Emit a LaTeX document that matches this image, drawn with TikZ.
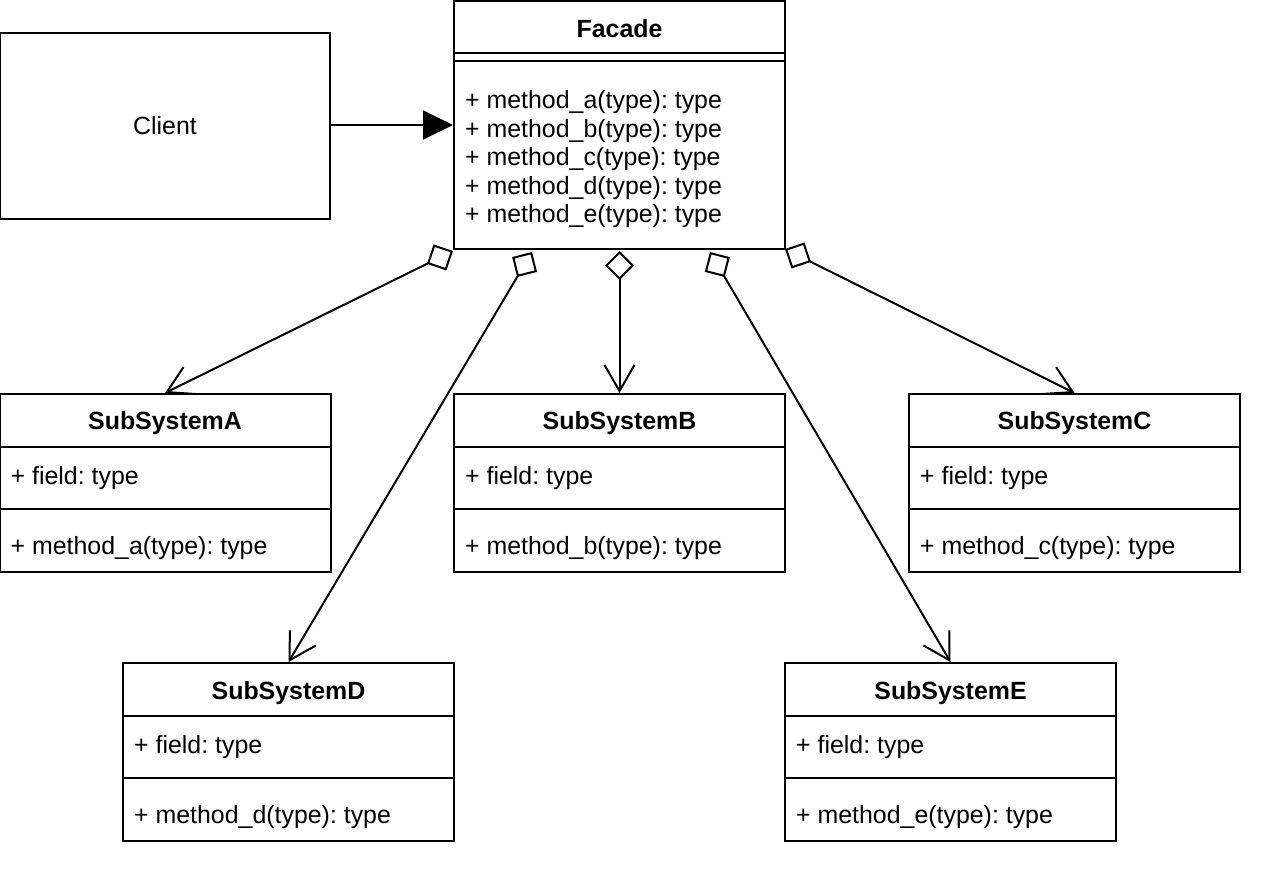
\documentclass[tikz,border=0pt]{standalone}
\usepackage{fontspec}
\setmainfont{Liberation Sans}
\usetikzlibrary{arrows.meta}
\frenchspacing
\newcommand\umlclass[6]{%
  \node[classbox] (#1) at (#2,#3+89) {};
  \draw[ln] (#1.north west) ++(0,54) -- ++(331,0);
  \draw[ln] (#1.north west) ++(0,116) -- ++(331,0);
  \path (#1.north) ++(0,37) node[ttl,anchor=base] (#1-title) {#4};
  \path (#1.north west) ++(12,91) node[txt,anchor=base west] (#1-field) {#5};
  \path (#1.north west) ++(12,161) node[txt,anchor=base west] (#1-method) {#6};
}
\begin{document}
\frenchspacing
\begin{tikzpicture}[x=1pt,y=-1pt,
  ln/.style={line width=2pt},
  txt/.style={font=\fontsize{24.9pt}{28.6pt}\selectfont\frenchspacing, inner sep=0pt},
  ttl/.style={font=\fontsize{24.9pt}{28.6pt}\selectfont\bfseries, inner sep=0pt},
  classbox/.style={draw, ln, inner sep=0pt, minimum width=331pt, minimum height=178pt},
  agg/.style={ln, {Diamond[open, fill=white, length=29pt, width=29pt]}-{Straight Barb[length=26pt, width=30pt]}}
]
\useasboundingbox (0,0) rectangle (1262,893);

% Client
\node[draw, ln, txt, minimum width=330pt, minimum height=186pt] (client) at (165,126) {Client};

% Facade
\node[draw, ln, inner sep=0pt, minimum width=331pt, minimum height=248pt] (facade) at (619.5,125) {};
\draw[ln] (facade.north west) ++(0,53) -- ++(331,0);
\draw[ln] (facade.north west) ++(0,61) -- ++(331,0);
\path (facade.north) ++(0,37.5) node[ttl,anchor=base] (facade-title) {Facade};
\foreach \l/\y in {a/0,b/1,c/2,d/3,e/4}{
  \path (facade.north west) ++(12,108.5+28.6*\y) node[txt,anchor=base west] (facade-m\l) {+ method\_\l(type): type};
}

% Subsystems
\umlclass{subA}{165}{394}{SubSystemA}{+ field: type}{+ method\_a(type): type}
\umlclass{subB}{619.5}{394}{SubSystemB}{+ field: type}{+ method\_b(type): type}
\umlclass{subC}{1074.5}{394}{SubSystemC}{+ field: type}{+ method\_c(type): type}
\umlclass{subD}{288.5}{663}{SubSystemD}{+ field: type}{+ method\_d(type): type}
\umlclass{subE}{950.5}{663}{SubSystemE}{+ field: type}{+ method\_e(type): type}

% Client -> Facade
\draw[ln, -{Triangle[length=30pt, width=29pt]}] (client.east |- facade.west) -- (facade.west);

% Aggregations
\coordinate (pa) at (453,251);
\coordinate (pd) at (532,252);
\coordinate (pb) at (619.5,251);
\coordinate (pe) at (710,252);
\coordinate (pc) at (785,249);
\draw[agg] (pa) -- (subA.north);
\draw[agg] (pd) -- (subD.north);
\draw[agg] (pb) -- (subB.north);
\draw[agg] (pe) -- (subE.north);
\draw[agg] (pc) -- (subC.north);
\end{tikzpicture}
\end{document}
